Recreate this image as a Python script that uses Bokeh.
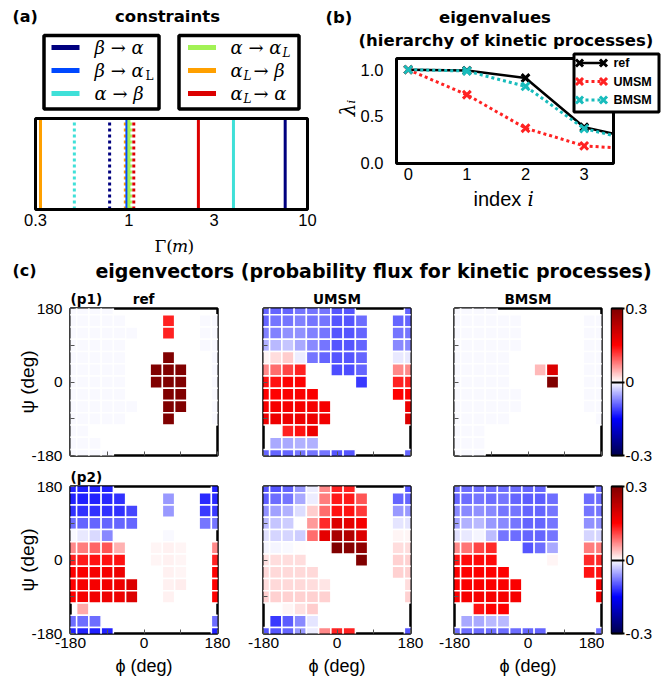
import math
import numpy as np
from bokeh.plotting import figure
from bokeh.layouts import row, column
from bokeh.models import Range1d, FixedTicker, ColumnDataSource, LinearColorMapper, Title
from bokeh.transform import linear_cmap
from bokeh.core.properties import value
from bokeh.embed import file_html
from bokeh.resources import INLINE

# ---------------- data: panel (a) ----------------
transition_colors = ["#00007f", "#0048ff", "#3fe0d8", "#a2f255", "#ffa000", "#dc0000"]
gamma_solid = [7.5, 0.975, 3.85, 1.0, 0.32, 2.45]
gamma_dotted = [0.78, 0.99, 0.495, 1.02, 0.955, 1.065]
gamma_ticks = [0.3, 1, 3, 10]
gamma_tick_labels = ["0.3", "1", "3", "10"]

# ---------------- data: panel (b) ----------------
eig_index = [0, 1, 2, 3, 4]
eig_ref = [1.0, 0.99, 0.91, 0.38, 0.24]
eig_umsm = [1.0, 0.73, 0.37, 0.18, 0.14]
eig_bmsm = [1.0, 0.985, 0.82, 0.365, 0.215]
eig_names = ["ref", "UMSM", "BMSM"]
eig_ticks = [0, 1, 2, 3]
lam_ticks = [0, 0.5, 1.0]

# ---------------- data: panel (c) ----------------
phi_centers = [-180, -150, -120, -90, -60, -30, 0, 30, 60, 90, 120, 150, 180]
psi_centers = [180, 150, 120, 90, 60, 30, 0, -30, -60, -90, -120, -150, -180]
angle_ticks = [-180, -90, 0, 90, 180]
cbar_ticks = [-0.3, 0, 0.3]

ref_p1 = [
    [-0.004, -0.004, -0.004, -0.004, 0, 0, 0, 0, 0, 0, 0, 0, 0],
    [-0.004, -0.004, -0.004, -0.004, -0.004, 0, 0, 0, 0.13, 0, 0, -0.004, -0.004],
    [-0.004, -0.004, -0.004, -0.004, -0.004, -0.004, 0, 0, 0.13, 0, 0, -0.004, -0.004],
    [-0.004, -0.004, -0.004, -0.004, -0.004, 0, 0, 0, 0, 0, 0, -0.004, -0.004],
    [-0.004, -0.004, -0.004, -0.004, -0.004, 0, 0, 0, 0.3, 0, 0, 0, -0.004],
    [-0.004, -0.004, -0.004, -0.004, -0.004, 0, 0, 0.3, 0.3, 0.3, 0, 0, -0.004],
    [-0.004, -0.004, -0.004, -0.004, -0.004, 0, 0, 0.3, 0.3, 0.3, 0, 0, -0.004],
    [-0.004, -0.004, -0.004, -0.004, -0.004, 0, 0, 0, 0.3, 0.3, 0, 0, -0.004],
    [-0.004, -0.004, -0.004, -0.004, -0.004, -0.004, 0, 0, 0.3, 0.3, 0, 0, -0.004],
    [-0.004, -0.004, -0.004, -0.004, -0.004, 0, 0, 0, 0.3, 0, 0, 0, -0.004],
    [-0.004, -0.004, 0, 0, 0, 0, 0, 0, 0, 0, 0, 0, 0],
    [-0.004, -0.004, -0.004, 0, 0, 0, 0, 0, 0, 0, 0, 0, 0],
    [-0.004, -0.004, -0.004, -0.004, 0, 0, 0, 0, 0, 0, 0, 0, 0],
]

umsm_p1 = [
    [-0.09, -0.09, -0.09, -0.08, -0.08, -0.08, -0.1, -0.1, 0, 0, 0, 0, -0.09],
    [-0.09, -0.08, -0.08, -0.075, -0.08, -0.08, -0.1, -0.1, -0.085, 0, 0, -0.09, -0.09],
    [-0.075, -0.075, -0.065, -0.065, -0.075, -0.08, -0.1, -0.1, -0.09, 0, 0, -0.08, -0.08],
    [-0.045, -0.04, -0.035, -0.05, -0.07, -0.08, -0.1, -0.1, -0.09, 0, 0, -0.07, -0.07],
    [0.005, 0.02, 0.03, -0.01, -0.08, -0.09, -0.1, -0.1, -0.09, 0, 0, -0.012, -0.012],
    [0.07, 0.085, 0.11, 0.13, 0, 0, -0.105, -0.105, -0.09, 0, 0, 0.07, 0.07],
    [0.14, 0.14, 0.15, 0.15, 0, 0, 0, 0, -0.115, 0, 0, 0.13, 0.13],
    [0.15, 0.15, 0.155, 0.155, 0.155, 0, 0, 0, 0, 0, 0, 0.15, 0.15],
    [0.16, 0.16, 0.16, 0.16, 0.16, 0.16, 0, 0, 0, 0, 0, 0, 0.17],
    [0.17, 0.17, 0.17, 0.17, 0.17, 0.165, 0, 0, 0, 0, 0, 0, 0.19],
    [0, 0, 0.13, 0.14, 0.17, 0, 0, 0, 0, 0, 0, 0, 0],
    [0, -0.05, -0.05, -0.045, -0.045, 0, 0, 0, 0, 0, 0, 0, 0],
    [-0.09, -0.09, -0.09, -0.08, -0.08, -0.08, -0.1, -0.1, 0, 0, 0, 0, -0.09],
]

bmsm_p1 = [
    [-0.003, -0.003, -0.003, -0.003, 0, 0, 0, 0, 0, 0, 0, 0, 0],
    [-0.003, -0.003, -0.003, -0.003, -0.003, -0.003, 0, 0, 0, 0, 0, -0.003, -0.003],
    [-0.003, -0.003, -0.003, -0.003, -0.003, -0.003, 0, 0, 0, 0, 0, -0.003, -0.003],
    [-0.003, -0.003, -0.003, -0.003, -0.003, -0.003, 0, 0, 0, 0, 0, -0.003, -0.003],
    [-0.003, -0.003, -0.003, -0.003, -0.003, 0, 0, 0, 0, 0, 0, -0.003, -0.003],
    [-0.003, -0.003, -0.003, -0.003, -0.003, 0, 0, 0.04, 0.19, 0, 0, -0.003, -0.003],
    [-0.003, -0.003, -0.003, -0.003, -0.003, 0, 0, 0, 0.3, 0, 0, -0.003, -0.003],
    [-0.003, -0.003, -0.003, -0.003, -0.003, -0.003, 0, 0, 0, 0, 0, -0.003, -0.003],
    [-0.003, -0.003, -0.003, -0.003, -0.003, -0.003, 0, 0, 0, 0, 0, -0.003, -0.003],
    [-0.003, -0.003, -0.003, -0.003, -0.003, 0, 0, 0, 0, 0, 0, 0, -0.003],
    [-0.003, -0.003, -0.003, 0, 0, 0, 0, 0, 0, 0, 0, 0, 0],
    [-0.003, -0.003, -0.003, 0, 0, 0, 0, 0, 0, 0, 0, 0, 0],
    [-0.003, -0.003, -0.003, 0, 0, 0, 0, 0, 0, 0, 0, 0, 0],
]

ref_p2 = [
    [-0.13, -0.13, -0.13, -0.13, 0, 0, 0, 0, 0, 0, 0, 0, -0.13],
    [-0.13, -0.13, -0.13, -0.125, -0.12, 0, 0, 0, -0.06, 0, 0, -0.125, -0.125],
    [-0.12, -0.12, -0.12, -0.12, -0.12, -0.11, 0, 0, -0.06, 0, 0, -0.115, -0.115],
    [-0.085, -0.09, -0.09, -0.09, -0.09, -0.09, 0, 0, 0, 0, 0, -0.08, -0.08],
    [-0.003, -0.012, -0.022, -0.07, 0, 0, 0, 0, -0.003, 0, 0, 0, 0],
    [0.07, 0.075, 0.09, 0.1, 0.045, 0, 0, 0.006, 0.008, 0.005, 0, 0, 0.07],
    [0.13, 0.135, 0.14, 0.14, 0.14, 0, 0, 0.006, 0.008, 0.006, 0, 0, 0.13],
    [0.15, 0.155, 0.16, 0.16, 0.17, 0, 0, 0, 0.008, 0.006, 0, 0, 0.15],
    [0.15, 0.16, 0.16, 0.165, 0.17, 0.19, 0, 0, 0.008, 0.01, 0, 0, 0.15],
    [0.15, 0.16, 0.165, 0.17, 0.17, 0.19, 0, 0, 0.008, 0, 0, 0, 0.15],
    [0, 0.05, 0, 0, 0, 0, 0, 0, 0, 0, 0, 0, 0],
    [-0.085, -0.085, -0.085, 0, 0, 0, 0, 0, 0, 0, 0, 0, -0.085],
    [-0.13, -0.13, -0.13, -0.13, 0, 0, 0, 0, 0, 0, 0, 0, -0.13],
]

umsm_p2 = [
    [-0.1, -0.1, -0.09, -0.06, -0.01, 0.07, 0.13, 0.13, 0, 0, 0, 0, -0.1],
    [-0.095, -0.085, -0.08, -0.05, -0.01, 0.075, 0.135, 0.135, 0.1, 0, 0, -0.09, -0.09],
    [-0.065, -0.055, -0.045, -0.02, 0.03, 0.085, 0.14, 0.14, 0.115, 0, 0, -0.06, -0.06],
    [-0.04, -0.035, -0.03, 0, 0.06, 0.125, 0.19, 0.18, 0.16, 0, 0, -0.015, -0.015],
    [-0.018, -0.025, -0.025, -0.03, 0.085, 0.18, 0.25, 0.24, 0.19, 0, 0, 0.005, 0.005],
    [-0.005, -0.005, -0.004, 0.002, 0, 0, 0.3, 0.29, 0.28, 0, 0, 0.02, 0.02],
    [0.018, 0.02, 0.02, 0.02, 0, 0, 0, 0, 0.3, 0, 0, 0.027, 0.027],
    [0.023, 0.023, 0.023, 0.023, 0.023, 0, 0, 0, 0, 0, 0, 0.027, 0.027],
    [0.02, 0.023, 0.023, 0.023, 0.02, 0.015, 0, 0, 0, 0, 0, 0, 0.02],
    [0.027, 0.027, 0.027, 0.027, 0.027, 0.027, 0, 0, 0, 0, 0, 0, 0.027],
    [0, 0, 0.005, 0.018, 0.03, 0, 0, 0, 0, 0, 0, 0, 0],
    [0, -0.115, -0.095, -0.07, -0.015, 0, 0, 0, 0, 0, 0, 0, 0],
    [-0.1, -0.1, -0.09, -0.06, -0.01, 0.07, 0.13, 0.13, 0, 0, 0, 0, -0.1],
]

bmsm_p2 = [
    [-0.085, -0.085, -0.085, -0.085, -0.085, -0.085, -0.09, -0.09, 0, 0, 0, 0, -0.085],
    [-0.09, -0.085, -0.08, -0.085, -0.08, -0.09, -0.095, -0.095, -0.085, 0, 0, -0.085, -0.085],
    [-0.07, -0.07, -0.065, -0.07, -0.08, -0.08, -0.09, -0.09, -0.08, 0, 0, -0.08, -0.08],
    [-0.055, -0.045, -0.04, -0.06, -0.07, -0.08, -0.09, -0.09, -0.08, 0, 0, -0.065, -0.065],
    [-0.018, -0.012, -0.006, -0.038, -0.08, -0.085, -0.09, -0.09, -0.08, 0, 0, -0.025, -0.025],
    [0.068, 0.08, 0.11, 0.126, 0, 0, -0.1, -0.085, -0.05, 0, 0, 0.075, 0.075],
    [0.14, 0.145, 0.145, 0.145, 0, 0, 0, 0, 0.005, 0, 0, 0.126, 0.126],
    [0.15, 0.15, 0.15, 0.15, 0.15, 0, 0, 0, 0, 0, 0, 0.14, 0.14],
    [0.15, 0.155, 0.155, 0.155, 0.155, 0.155, 0, 0, 0, 0, 0, 0, 0.155],
    [0.155, 0.16, 0.16, 0.16, 0.16, 0.16, 0, 0, 0, 0, 0, 0, 0.16],
    [0, 0, 0.14, 0.15, 0.15, 0, 0, 0, 0, 0, 0, 0, 0],
    [0, -0.05, -0.05, -0.04, -0.04, 0, 0, 0, 0, 0, 0, 0, 0],
    [-0.085, -0.085, -0.085, -0.085, -0.085, -0.085, -0.09, -0.09, 0, 0, 0, 0, -0.085],
]

# ---------------- styling helpers ----------------
SANS = "Liberation Sans"
BOLD = "DejaVu Sans"
SERIF = "DejaVu Serif"


def seismic(n=256):
    pos = [0.0, 0.25, 0.5, 0.75, 1.0]
    rgb = [(0.0, 0.0, 0.3), (0.0, 0.0, 1.0), (1.0, 1.0, 1.0), (1.0, 0.0, 0.0), (0.5, 0.0, 0.0)]
    out = []
    for t in np.linspace(0, 1, n):
        c = [np.interp(t, pos, [k[i] for k in rgb]) for i in range(3)]
        out.append("#%02x%02x%02x" % tuple(int(round(255 * v)) for v in c))
    return out


SEISMIC = seismic()


def base_fig(width, height, left, right, top, bottom, **kw):
    p = figure(width=width, height=height, toolbar_location=None, output_backend="svg", title=None,
               min_border_left=left, min_border_right=right,
               min_border_top=top, min_border_bottom=bottom, **kw)
    p.background_fill_color = "white"
    p.border_fill_color = "white"
    p.grid.visible = False
    return p


def strip(width, height, x0, x1, y_top, y_bottom, left=0, right=0):
    p = base_fig(width, height, left, right, 0, 0, x_range=Range1d(x0, x1),
                 y_range=Range1d(y_bottom, y_top), x_axis_location=None, y_axis_location=None)
    p.outline_line_color = None
    return p


def put_text(p, x, y, txt, size, font=SANS, style="normal", align="center", baseline="middle"):
    p.text(x=[x], y=[y], text=[txt], text_font=value(font), text_font_style=style,
           text_font_size=size, text_align=align, text_baseline=baseline, text_color="black")


def style_axis(ax, size="16.5px"):
    ax.axis_line_color = None
    ax.minor_tick_line_color = None
    ax.major_label_text_font = SANS
    ax.major_label_text_font_size = size
    ax.major_label_text_color = "black"
    ax.axis_label_text_color = "black"


def bold_title(text, align, offset=0, standoff=3, size="13.6px"):
    return Title(text=text, align=align, offset=offset, standoff=standoff, text_font=BOLD,
                 text_font_style="bold", text_font_size=size, text_color="black")


# ======================= panel (a) =======================
pa_top = strip(320, 114, 0, 320, 0, 114)
put_text(pa_top, 12, 16, "(a)", "16px", font=BOLD, style="bold", align="left")
put_text(pa_top, 167, 16, "constraints", "16.5px", font=BOLD, style="bold")
pa_top.quad(left=[43.5, 178.5], right=[158.5, 298.5], top=[35, 35], bottom=[108.5, 108.5],
            fill_color="white", line_color="black", line_width=3.5)
pa_top.rect(x=[65, 65, 65, 201.5, 201.5, 201.5], y=[47, 70, 93, 47, 70, 93], width=28, height=5,
            fill_color=transition_colors, line_color=None)
legend_x0 = [94, 94, 94, 230, 230, 230]
legend_y0 = [47, 70, 93, 47, 70, 93]
legend_pieces = [
    [("β → α", 0, "main")],
    [("β → α", 0, "main"), ("L", 51, "sub_up")],
    [("α → β", 0, "main")],
    [("α → α", 0, "main"), ("L", 52, "sub_it")],
    [("α", 0, "main"), ("L", 13, "sub_it"), ("→ β", 23, "main")],
    [("α", 0, "main"), ("L", 13, "sub_it"), ("→ α", 23, "main")],
]
for x0, y0, pieces in zip(legend_x0, legend_y0, legend_pieces):
    for txt, dx, kind in pieces:
        if kind == "main":
            put_text(pa_top, x0 + dx, y0, txt, "18px", font=SERIF, style="italic", align="left")
        else:
            put_text(pa_top, x0 + dx, y0 + 5, txt, "12px", font=SERIF,
                     style="normal" if kind == "sub_up" else "italic", align="left")

# axes box of (a): box at page x 35..307, y 118..209 ; frame page x 0..320, y 115..212
dec_per_px = (math.log10(10) - math.log10(0.3)) / (307 - 35)
xr_a = Range1d(10 ** (math.log10(0.3) - 35 * dec_per_px), 10 ** (1 + 13 * dec_per_px))
yr_a = Range1d(-3 / 91, 1 + 3 / 91)
pa = base_fig(320, 120, 0, 0, 1, 22, x_axis_type="log", x_range=xr_a, y_range=yr_a,
              y_axis_location=None)
pa.outline_line_color = None
pa.segment(x0=gamma_dotted, y0=0, x1=gamma_dotted, y1=1, line_color=transition_colors,
           line_width=3, line_dash="3 3")
pa.segment(x0=gamma_solid, y0=0, x1=gamma_solid, y1=1, line_color=transition_colors, line_width=3)
pa.quad(left=[0.3], right=[10], bottom=[0], top=[1], fill_color=None, line_color="black", line_width=3)
pa.xaxis.ticker = FixedTicker(ticks=gamma_ticks)
pa.xaxis.major_label_overrides = dict(zip(gamma_ticks, gamma_tick_labels))
pa.xaxis.major_tick_in = 0
pa.xaxis.major_tick_out = 0
pa.xaxis.major_label_standoff = 1
style_axis(pa.xaxis[0])

pa_bottom = strip(320, 21, 0, 320, 234, 255)
put_text(pa_bottom, 154, 245, "Γ(", "17px", font=SERIF, align="left")
put_text(pa_bottom, 171.5, 245, "m", "17px", font=SERIF, style="italic", align="left")
put_text(pa_bottom, 187, 245, ")", "17px", font=SERIF, align="left")

col_a = column(pa_top, pa, pa_bottom)

# ======================= panel (b) =======================
bx0, bx1, by0, by1 = -0.2, 3.5, -0.01, 1.12          # visible box limits
sxb = (613 - 396) / (bx1 - bx0)                        # px per unit (box page x 396..613)
syb = (163 - 58) / (by1 - by0)                         # px per unit (box page y 58..163)
xr_b = Range1d(bx0 - 2 / sxb, bx1 + 51 / sxb)          # frame page x 394..664
yr_b = Range1d(by0 - 2 / syb, by1 + 8 / syb)           # frame page y 50..165


def bx(px):   # page x -> data x of panel (b)
    return bx0 + (px - 396) / sxb


def by(py):   # page y -> data y of panel (b)
    return by0 + (163 - py) / syb


pb = base_fig(349, 187, 74, 5, 50, 22, x_range=xr_b, y_range=yr_b)
pb.outline_line_color = None
eig_series = [eig_ref, eig_umsm, eig_bmsm]
eig_colors = ["black", "#ff2222", "#18bcbc"]
eig_dash = ["solid", "3 3", "3 3"]
eig_lw = [2.5, 3, 3]
for vals, col, dash, lw in zip(eig_series, eig_colors, eig_dash, eig_lw):
    pb.line(eig_index, vals, line_color=col, line_width=lw, line_dash=dash)
    pb.scatter(eig_index, vals, marker="x", size=11, line_color=col, line_width=3)
pb.quad(left=[bx1], right=[xr_b.end], bottom=[yr_b.start], top=[yr_b.end],
        fill_color="white", line_color=None)
pb.quad(left=[bx0], right=[bx1], bottom=[by0], top=[by1], fill_color=None, line_color="black", line_width=3)
# legend of (b), drawn as glyphs inside the frame
pb.quad(left=[bx(573.5)], right=[bx(658.5)], bottom=[by(111.5)], top=[by(53.5)],
        fill_color="white", line_color="black", line_width=3)
for k, (name, col, dash, lw) in enumerate(zip(eig_names, eig_colors, eig_dash, eig_lw)):
    yy = by(62.5 + 18.5 * k)
    pb.line([bx(579), bx(603)], [yy, yy], line_color=col, line_width=lw, line_dash=dash)
    pb.scatter([bx(579), bx(603)], [yy, yy], marker="x", size=10, line_color=col, line_width=3)
    pb.text(x=[bx(613)], y=[yy], text=[name], text_font=value(SANS), text_font_style="bold",
            text_font_size="12.5px", text_align="left", text_baseline="middle", text_color="black")
pb.xaxis.ticker = FixedTicker(ticks=eig_ticks)
pb.yaxis.ticker = FixedTicker(ticks=lam_ticks)
pb.yaxis.major_label_overrides = {0: "0.0", 0.5: "0.5", 1: "1.0"}
for ax in (pb.xaxis[0], pb.yaxis[0]):
    style_axis(ax)
    ax.major_tick_in = 0
    ax.major_tick_out = 0
pb.yaxis.major_label_standoff = 11
pb.xaxis.major_label_standoff = 2
pb.yaxis.axis_label = "λᵢ"
pb.yaxis.axis_label_text_font = SERIF
pb.yaxis.axis_label_text_font_style = "italic"
pb.yaxis.axis_label_text_font_size = "20px"
pb.yaxis.axis_label_standoff = -2
pb.add_layout(bold_title("(hierarchy of kinetic processes)", "left", offset=-36, standoff=2,
                         size="16.5px"), "above")
pb.add_layout(bold_title("(b)\u2003\u2003\u2003\u2003\u2003\u2005eigenvalues", "left", offset=-69,
                         standoff=2, size="16.5px"), "above")

pb_bottom = strip(349, 68, 394, 664, 187, 255, left=74, right=5)
put_text(pb_bottom, 473, 198, "index", "20px", align="left")
put_text(pb_bottom, 527, 198, "i", "20px", font=SERIF, style="italic", align="left")

col_b = column(pb, pb_bottom)

# ======================= panel (c) =======================
pct = strip(669, 30, 0, 669, 255, 285)
put_text(pct, 12, 270, "(c)", "16px", font=BOLD, style="bold", align="left")
put_text(pct, 373, 270, "eigenvectors (probability flux for kinetic processes)", "19px",
         font=BOLD, style="bold")


def heat(grid, width, height, left, right, top, bottom, show_x, show_y, title, align):
    p = base_fig(width, height, left, right, top, bottom,
                 x_range=Range1d(-180, 180), y_range=Range1d(-180, 180))
    xs, ys, vs = [], [], []
    for r, rowv in enumerate(grid):
        for c, v in enumerate(rowv):
            if v != 0:
                xs.append(phi_centers[c])
                ys.append(psi_centers[r])
                vs.append(v)
    src = ColumnDataSource(dict(x=xs, y=ys, v=vs))
    p.rect(x="x", y="y", width=30, height=30, source=src,
           fill_color=linear_cmap("v", SEISMIC, -0.3, 0.3), line_color="white", line_width=1.5)
    for ax, show in ((p.xaxis[0], show_x), (p.yaxis[0], show_y)):
        ax.ticker = FixedTicker(ticks=angle_ticks)
        style_axis(ax, "15.5px")
        ax.major_tick_in = 4
        ax.major_tick_out = 0
        ax.major_tick_line_color = "#555555"
        if show:
            ax.major_label_overrides = {-180: "-180", -90: "", 0: "0", 90: "", 180: "180"}
        else:
            ax.major_label_overrides = {t: "" for t in angle_ticks}
            ax.major_label_text_font_size = "1px"
            ax.major_label_standoff = 0
    if show_y:
        p.yaxis.major_label_standoff = 8
        p.yaxis.axis_label = "ψ (deg)"
        p.yaxis.axis_label_text_font = SANS
        p.yaxis.axis_label_text_font_style = "normal"
        p.yaxis.axis_label_text_font_size = "19px"
        p.yaxis.axis_label_standoff = -10
    if show_x:
        p.xaxis.major_label_standoff = 4
    p.outline_line_color = "black"
    p.outline_line_width = 2.5
    if title:
        p.add_layout(bold_title(title, align), "above")
    return p


def cbar(height, top, bottom):
    p = base_fig(65, height, 7, 47, top, bottom, x_range=Range1d(0, 1), y_range=Range1d(-0.3, 0.3),
                 x_axis_location=None, y_axis_location="right")
    levels = np.linspace(-0.3, 0.3, 256).reshape(-1, 1)
    p.image(image=[levels], x=0, y=-0.3, dw=1, dh=0.6,
            color_mapper=LinearColorMapper(palette=SEISMIC, low=-0.3, high=0.3))
    ax = p.yaxis[0]
    ax.ticker = FixedTicker(ticks=cbar_ticks)
    ax.major_label_overrides = {-0.3: "-0.3", 0: "0", 0.3: "0.3"}
    style_axis(ax, "15.5px")
    ax.major_tick_in = 11
    ax.major_tick_out = 2
    ax.major_tick_line_width = 2
    ax.major_tick_line_color = "black"
    ax.major_label_standoff = 1
    p.outline_line_color = "black"
    p.outline_line_width = 1.5
    return p


SP = "\u2003\u2003\u2005"
r1 = heat(ref_p1, 240, 179, 70, 23, 23, 9, False, True, "(p1)" + SP + "ref", "left")
u1 = heat(umsm_p1, 192, 179, 23, 22, 23, 9, False, False, "UMSM", "center")
b1 = heat(bmsm_p1, 172, 179, 22, 3, 23, 9, False, False, "BMSM", "center")
c1 = cbar(179, 23, 9)
r2 = heat(ref_p2, 240, 191, 70, 23, 22, 22, True, True, "(p2)", "left")
u2 = heat(umsm_p2, 192, 191, 23, 22, 22, 22, True, False, None, "center")
b2 = heat(bmsm_p2, 172, 191, 22, 3, 22, 22, True, False, None, "center")
c2 = cbar(191, 22, 22)

phi_strip = strip(669, 21, 0, 669, 655, 676)
for cx in (143.5, 336.5, 527.5):
    put_text(phi_strip, cx, 665.5, "ϕ (deg)", "18px")

layout = column(
    row(col_a, col_b),
    pct,
    row(r1, u1, b1, c1),
    row(r2, u2, b2, c2),
    phi_strip,
)

open("out.html", "w").write(file_html(layout, INLINE))
